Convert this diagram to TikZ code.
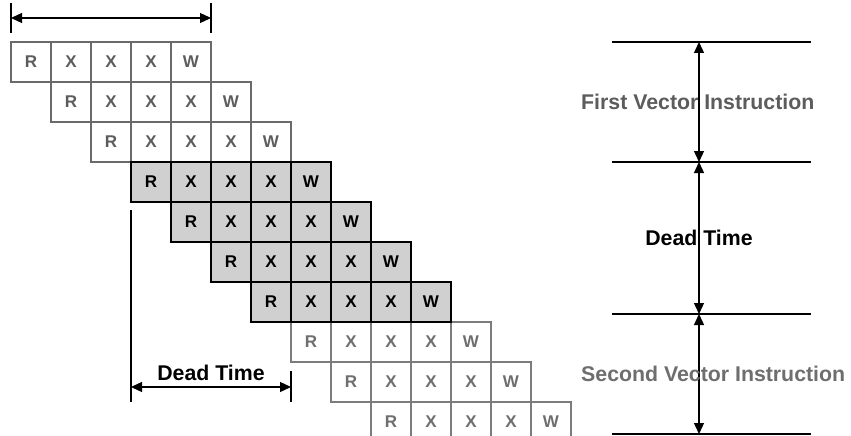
\documentclass[tikz,border=0pt]{standalone}
\usepackage{fontspec}
\setmainfont{Liberation Sans}
\usetikzlibrary{arrows.meta}
\definecolor{shade}{HTML}{D0D0D0}
\definecolor{earlyline}{HTML}{6A6A6A}
\definecolor{earlytext}{HTML}{5C5C5C}
\definecolor{lateline}{HTML}{7C7C7C}
\definecolor{latetext}{HTML}{6E6E6E}
\begin{document}
\begin{tikzpicture}[x=1pt,y=-1pt,
  cell/.style={draw, minimum width=40pt, minimum height=40pt, inner sep=0pt,
    outer sep=0pt, anchor=north west, line width=1.2pt,
    font=\fontsize{17}{17}\selectfont\bfseries},
  earlycell/.style={cell, draw=earlyline, text=earlytext},
  latecell/.style={cell, draw=lateline, text=latetext},
  busycell/.style={cell, draw=black, fill=shade, text=black},
  dim/.style={line width=1.3pt, {Triangle[length=11pt,width=10pt]}-{Triangle[length=11pt,width=10pt]}},
  guide/.style={line width=1.2pt},
  label/.style={font=\fontsize{21.3}{21.3}\selectfont\bfseries, inner sep=0pt}
]
\useasboundingbox (0,0) rectangle (851,436);

% pipeline stages of the instructions outside the dead-time window
\foreach \r/\sty in {0/earlycell,1/earlycell,2/earlycell,7/latecell,8/latecell,9/latecell}
  \foreach \c/\t in {0/R,1/X,2/X,3/X,4/W}
    \node[\sty] (c\r\c) at (11+40*\r+40*\c, 42+40*\r) {\t};

% shaded stages that fall in the dead time
\foreach \r in {3,...,6}
  \foreach \c/\t in {0/R,1/X,2/X,3/X,4/W}
    \node[busycell] (c\r\c) at (11+40*\r+40*\c, 42+40*\r) {\t};

% span of one instruction, above the first row
\coordinate (topL0) at (11,3);   \coordinate (topL1) at (11,33);
\coordinate (topR0) at (211,3);  \coordinate (topR1) at (211,33);
\coordinate (topA) at (11,18);   \coordinate (topB) at (211,18);
\draw[guide] (topL0) -- (topL1);
\draw[guide] (topR0) -- (topR1);
\draw[dim] (topA) -- (topB);

% dead time span under the shaded rows
\coordinate (dtL0) at (131,210); \coordinate (dtL1) at (131,402);
\coordinate (dtR0) at (291,371); \coordinate (dtR1) at (291,402);
\coordinate (dtA) at (131,387);  \coordinate (dtB) at (291,387);
\draw[guide] (dtL0) -- (dtL1);
\draw[guide] (dtR0) -- (dtR1);
\draw[dim] (dtA) -- (dtB);
\node[label] (dtlab) at (211,373) {Dead Time};

% timeline on the right
\foreach \n/\y in {a/42,b/162,c/314,d/434}{
  \coordinate (h\n L) at (612,\y);
  \coordinate (h\n R) at (811,\y);
  \coordinate (h\n M) at (699,\y);
  \draw[guide] (h\n L) -- (h\n R);
}
\draw[dim] (haM) -- (hbM);
\draw[dim] (hbM) -- (hcM);
\draw[dim] (hcM) -- (hdM);

\node[label, anchor=west, text=earlytext] (first) at (581,102) {First Vector Instruction};
\node[label] (dead) at (699,238) {Dead Time};
\node[label, anchor=west, text=latetext] (second) at (581,374) {Second Vector Instruction};
\end{tikzpicture}
\end{document}
